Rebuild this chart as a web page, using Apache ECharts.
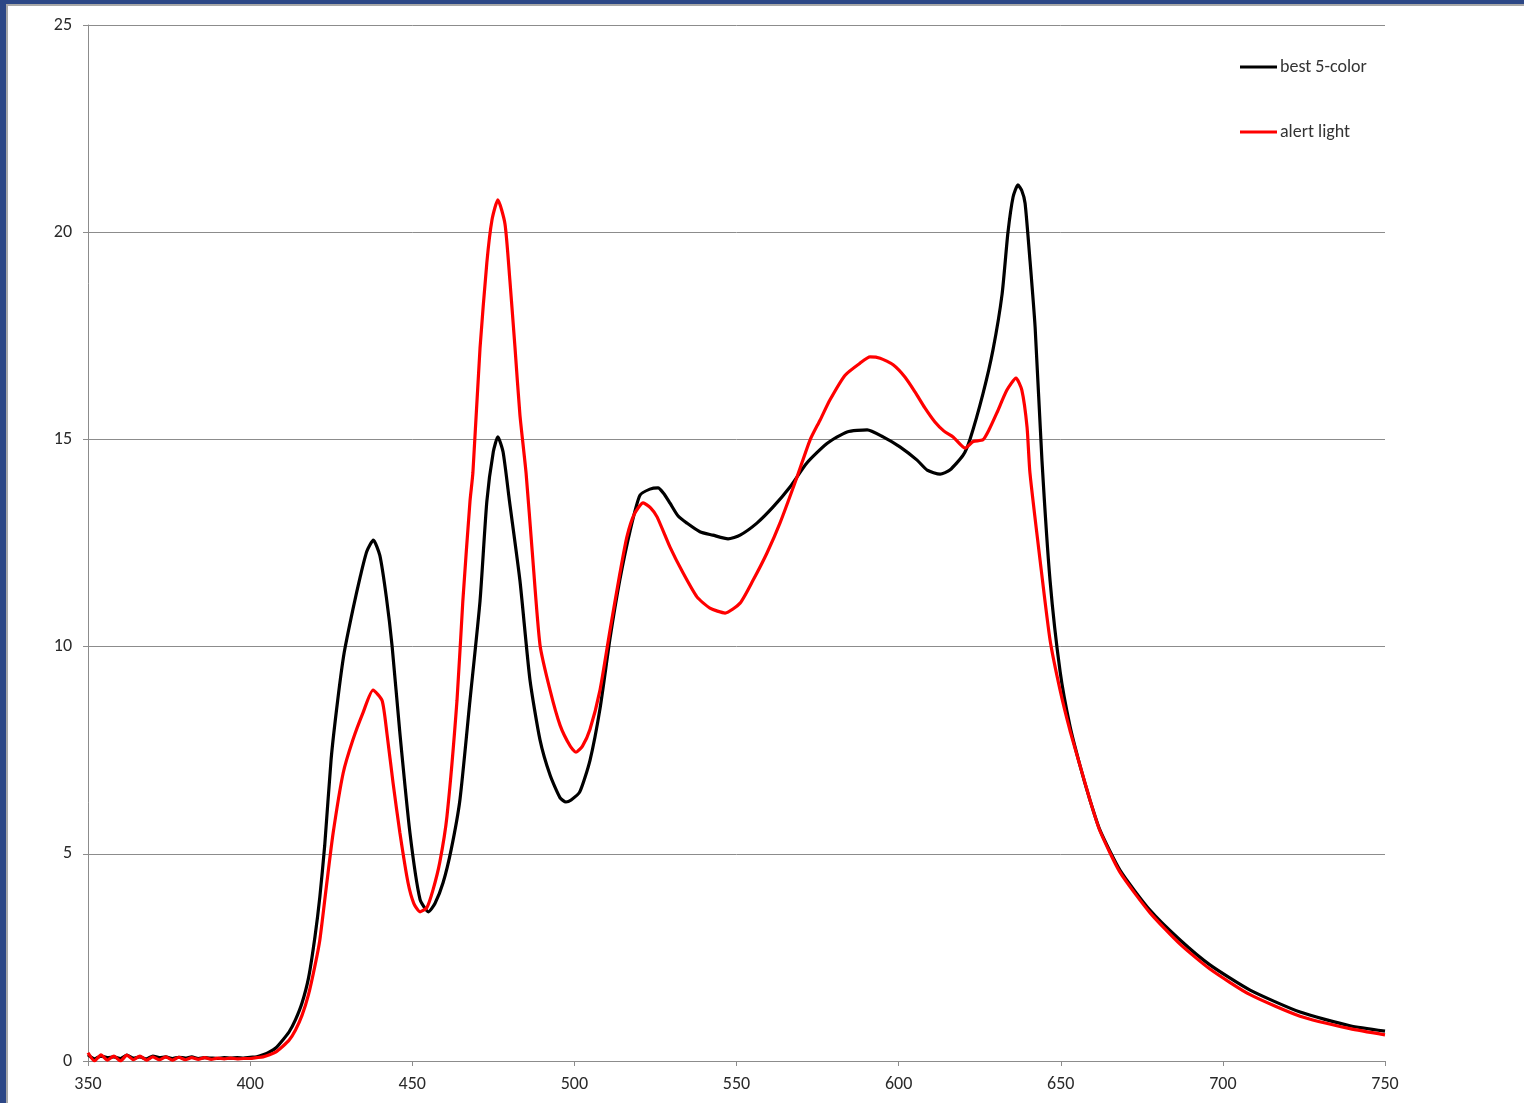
<!DOCTYPE html>
<html>
<head>
<meta charset="utf-8">
<script src="https://cdn.jsdelivr.net/npm/echarts@6/dist/echarts.min.js"></script>
<style>
  html, body { margin: 0; padding: 0; background: #ffffff; }
  #chart { width: 1524px; height: 1103px; }
</style>
</head>
<body>
<div id="chart"></div>
<script>
// Spectral power of two LED mixes, wavelength in nm
const seriesNames = ['best 5-color', 'alert light'];

const bestWavelength = [
  350, 352, 354, 356, 358, 360, 362, 364, 366, 368, 370, 372, 374, 376, 378, 380,
  382, 384, 386, 388, 390, 392, 394, 396, 398, 400, 402, 404, 406, 408, 410, 412,
  414, 416, 418, 420, 421.5, 423, 425, 427, 429, 431.7, 434, 436, 438, 440, 442,
  443.8, 446.2, 449.3, 452.4, 455, 457, 459.5, 462, 464.7, 467.8, 470.9, 473, 475,
  476.4, 478, 480, 483.2, 486.3, 489.4, 492.5, 495.6, 497.4, 499, 501.7, 504.8,
  507.9, 511, 514, 517.2, 520.2, 523.3, 525.8, 527.5, 529.5, 532, 534.7, 538.7,
  542.7, 547.4, 551.1, 556.3, 561.3, 566.5, 571.7, 577.9, 584.1, 590.3, 595.2,
  600.4, 605.7, 608.8, 612.8, 615.8, 619.9, 622, 626, 629.1, 631.9, 633.7, 635.3,
  636.8, 638, 639, 640.5, 642.1, 644.2, 646.7, 649.8, 652.8, 655.9, 659, 662.1,
  668.3, 677.5, 686.8, 696, 708.4, 723.8, 739.2, 750
];
const bestValue = [
  0.15, 0.05, 0.12, 0.08, 0.10, 0.06, 0.14, 0.07, 0.10, 0.05, 0.12, 0.08, 0.10, 0.06, 0.09, 0.07,
  0.10, 0.06, 0.08, 0.07, 0.06, 0.08, 0.07, 0.08, 0.07, 0.09, 0.10, 0.15, 0.22, 0.32, 0.50, 0.70,
  1.00, 1.40, 2.00, 3.00, 3.96, 5.20, 7.30, 8.70, 9.85, 10.90, 11.70, 12.30, 12.57, 12.20, 11.20,
  10.00, 7.90, 5.50, 3.90, 3.60, 3.80, 4.30, 5.10, 6.30, 8.70, 11.10, 13.50, 14.70,
  15.06, 14.70, 13.50, 11.60, 9.20, 7.75, 6.90, 6.35, 6.25, 6.30, 6.50, 7.25,
  8.50, 10.20, 11.60, 12.80, 13.65, 13.80, 13.83, 13.70, 13.46, 13.15, 12.98, 12.77,
  12.69, 12.60, 12.69, 12.98, 13.37, 13.85, 14.43, 14.90, 15.18, 15.23, 15.06,
  14.82, 14.50, 14.26, 14.16, 14.26, 14.62, 15.00, 16.10, 17.16, 18.50, 19.98, 20.85,
  21.14, 21.00, 20.70, 19.33, 17.70, 14.50, 11.60, 9.40, 8.10, 7.14, 6.30, 5.57,
  4.60, 3.64, 2.92, 2.32, 1.71, 1.18, 0.85, 0.72
];

const alertWavelength = [
  350, 352, 354, 356, 358, 360, 362, 364, 366, 368, 370, 372, 374, 376, 378, 380,
  382, 384, 386, 388, 390, 392, 394, 396, 398, 400, 402, 404, 406, 408, 410, 412,
  414, 416, 418, 420, 421.5, 423.5, 425.6, 428.7, 431.7, 434.8, 437.9, 440.7, 442.2,
  444.1, 446.2, 448.7, 450.5, 452.4, 454.5, 456.4, 458.5, 460.7, 463.8, 465.6, 467.8,
  468.7, 470.9, 473, 474.6, 476.4, 478.6, 480.1, 481.7, 483.2, 485.1, 487, 489.4,
  492.5, 495.6, 498.7, 500.5, 502.5, 504.8, 507.9, 511, 514, 516.2, 518.5, 521.2,
  523.5, 525.5, 529.5, 533.5, 537.8, 541.8, 546.5, 551.1, 555.1, 559.4, 563.4,
  568.7, 572.7, 575.8, 578.8, 583.5, 588.1, 591.2, 594.3, 598.3, 602, 605.1, 608.1,
  611.2, 614, 616.8, 620.5, 623, 626, 628, 630.3, 633.4, 636.2, 638, 639.6, 640.5,
  643.6, 646.7, 649.8, 652.8, 655.9, 659, 662.1, 668.3, 677.5, 686.8, 696, 708.4,
  723.8, 739.2, 750
];
const alertValue = [
  0.20, 0.00, 0.15, 0.02, 0.12, 0.00, 0.14, 0.03, 0.12, 0.02, 0.10, 0.03, 0.10, 0.02, 0.09, 0.03,
  0.08, 0.04, 0.08, 0.04, 0.07, 0.05, 0.07, 0.05, 0.06, 0.06, 0.08, 0.10, 0.15, 0.22, 0.35, 0.50,
  0.75, 1.10, 1.60, 2.30, 2.92, 4.20, 5.50, 6.95, 7.75, 8.40, 8.95, 8.70, 7.90,
  6.70, 5.50, 4.30, 3.80, 3.60, 3.70, 4.13, 4.80, 5.90, 8.70, 11.10, 13.50,
  14.19, 17.20, 19.26, 20.30, 20.78, 20.20, 18.85, 17.20, 15.60, 14.19, 12.30, 10.04,
  8.95, 8.10, 7.60, 7.45, 7.60, 8.00, 8.95, 10.40, 11.75, 12.65, 13.20, 13.47,
  13.35, 13.13, 12.40, 11.78, 11.20, 10.93, 10.81, 11.05, 11.60, 12.26, 12.98,
  14.10, 14.99, 15.47, 15.95, 16.55, 16.84, 16.99, 16.96, 16.80, 16.50, 16.14, 15.76,
  15.42, 15.20, 15.06, 14.79, 14.95, 14.99, 15.25, 15.64, 16.19, 16.48, 16.19, 15.30, 14.19,
  12.10, 10.16, 8.95, 7.99, 7.14, 6.30, 5.55, 4.55, 3.58, 2.82, 2.22, 1.60,
  1.08, 0.78, 0.63
];

const xTicks = { min: 350, max: 750, interval: 50 };
const yTicks = { min: 0, max: 25, interval: 5 };

const pairs = (xs, ys) => xs.map((x, i) => [x, ys[i]]);

const chart = echarts.init(document.getElementById('chart'), null, { renderer: 'canvas' });
const gridColor = '#8c8c8c';
const fontFamily = 'Carlito, Calibri, "Liberation Sans", Arial, sans-serif';

chart.setOption({
  animation: false,
  backgroundColor: '#ffffff',
  grid: { left: 88, top: 25, right: 139, bottom: 42, containLabel: false },
  graphic: [
    // window frame on the left and top edges
    { type: 'rect', shape: { x: 0, y: 0, width: 6, height: 1103 }, style: { fill: '#2c4786' }, silent: true },
    { type: 'rect', shape: { x: 6, y: 4, width: 2, height: 1099 }, style: { fill: '#a8a8a8' }, silent: true },
    { type: 'rect', shape: { x: 0, y: 0, width: 1524, height: 4 }, style: { fill: '#2c4786' }, silent: true },
    { type: 'rect', shape: { x: 6, y: 4, width: 1518, height: 2 }, style: { fill: '#a8a8a8' }, silent: true }
  ],
  legend: {
    orient: 'vertical',
    left: 1240,
    top: 58,
    padding: 0,
    itemWidth: 37,
    itemHeight: 14,
    itemGap: 47,
    icon: 'path://M0,5.5 L37,5.5 L37,8.5 L0,8.5 Z',
    textStyle: { fontSize: 18, color: '#333333', fontFamily: fontFamily, padding: [0, 0, 0, -2] },
    data: seriesNames
  },
  xAxis: {
    type: 'value',
    min: xTicks.min,
    max: xTicks.max,
    interval: xTicks.interval,
    axisLine: { show: true, lineStyle: { color: gridColor, width: 1 } },
    axisTick: { show: true, length: 5, inside: false, lineStyle: { color: gridColor } },
    axisLabel: { color: '#2a2a2a', fontSize: 18, fontFamily: fontFamily, margin: 14 },
    splitLine: { show: false }
  },
  yAxis: {
    type: 'value',
    min: yTicks.min,
    max: yTicks.max,
    interval: yTicks.interval,
    axisLine: { show: true, lineStyle: { color: gridColor, width: 1 } },
    axisTick: { show: true, length: 5, lineStyle: { color: gridColor } },
    axisLabel: { color: '#2a2a2a', fontSize: 18, fontFamily: fontFamily, margin: 16 },
    splitLine: { show: true, lineStyle: { color: gridColor, width: 1 } }
  },
  series: [
    {
      name: seriesNames[0],
      type: 'line',
      showSymbol: false,
      symbol: 'none',
      smooth: 0.2,
      color: '#000000',
      lineStyle: { color: '#000000', width: 3.2 },
      data: pairs(bestWavelength, bestValue),
      z: 3
    },
    {
      name: seriesNames[1],
      type: 'line',
      showSymbol: false,
      symbol: 'none',
      smooth: 0.2,
      color: '#ff0000',
      lineStyle: { color: '#ff0000', width: 3.2 },
      data: pairs(alertWavelength, alertValue),
      z: 4
    }
  ]
});
</script>
</body>
</html>
